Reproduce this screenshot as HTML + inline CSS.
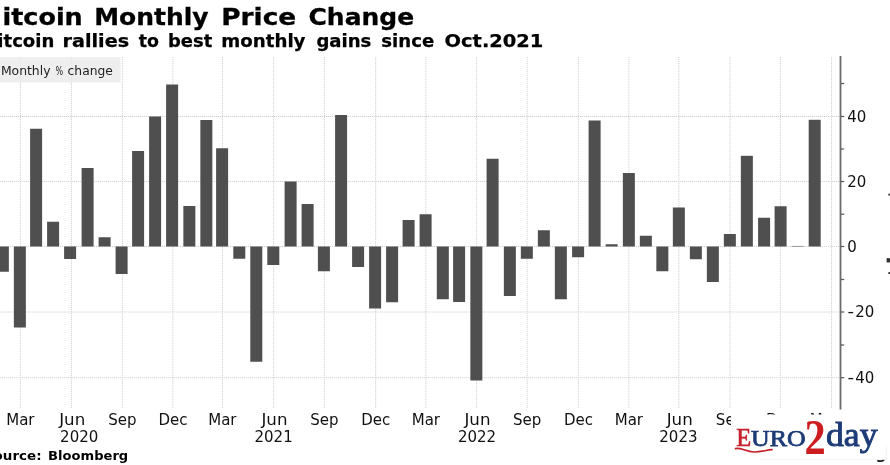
<!DOCTYPE html>
<html><head><meta charset="utf-8"><title>Bitcoin Monthly Price Change</title>
<style>
html,body{margin:0;padding:0;background:#fff;}
body{width:890px;height:465px;overflow:hidden;position:relative;font-family:"DejaVu Sans","Liberation Sans",sans-serif;}
svg{position:absolute;left:0;top:0;display:block;}
.t1{font-weight:bold;font-size:23.3px;fill:#000;stroke:#000;stroke-width:0.3px;}
.t2{font-weight:bold;font-size:17px;fill:#000;stroke:#000;stroke-width:0.25px;}
.lb{font-size:15px;fill:#111;}
.lg{font-size:12px;fill:#222;}
.src{font-weight:bold;font-size:12.4px;fill:#000;}
.gr{stroke:#d2d2d2;stroke-width:1;stroke-dasharray:1.2 0.8;fill:none;}
.bar{fill:#4f4f4f;}
</style></head><body>
<svg width="890" height="465" viewBox="0 0 890 465">
<rect x="0" y="0" width="890" height="465" fill="#ffffff"/>

<g class="gr">
<line x1="20.40" y1="57" x2="20.40" y2="408"/>
<line x1="71.40" y1="57" x2="71.40" y2="408"/>
<line x1="122.40" y1="57" x2="122.40" y2="408"/>
<line x1="172.90" y1="57" x2="172.90" y2="408"/>
<line x1="222.40" y1="57" x2="222.40" y2="408"/>
<line x1="273.65" y1="57" x2="273.65" y2="408"/>
<line x1="324.40" y1="57" x2="324.40" y2="408"/>
<line x1="375.65" y1="57" x2="375.65" y2="408"/>
<line x1="425.90" y1="57" x2="425.90" y2="408"/>
<line x1="476.65" y1="57" x2="476.65" y2="408"/>
<line x1="527.15" y1="57" x2="527.15" y2="408"/>
<line x1="578.40" y1="57" x2="578.40" y2="408"/>
<line x1="628.90" y1="57" x2="628.90" y2="408"/>
<line x1="678.90" y1="57" x2="678.90" y2="408"/>
<line x1="730.00" y1="57" x2="730.00" y2="408"/>
<line x1="780.40" y1="57" x2="780.40" y2="408"/>
<line x1="831.60" y1="57" x2="831.60" y2="408"/>
<line x1="0" y1="116.5" x2="839" y2="116.5"/>
<line x1="0" y1="181.5" x2="839" y2="181.5"/>
<line x1="0" y1="246.5" x2="839" y2="246.5"/>
<line x1="0" y1="312" x2="839" y2="312"/>
<line x1="0" y1="377.7" x2="839" y2="377.7"/>
</g>
<rect x="0" y="57.2" width="120.6" height="25.3" fill="#eaeaea" fill-opacity="0.8"/>
<text class="lg" y="74.8"><tspan x="0.9" textLength="49.6" lengthAdjust="spacingAndGlyphs">Monthly</tspan> <tspan x="55.4" textLength="7.6" lengthAdjust="spacingAndGlyphs">%</tspan> <tspan x="67.6" textLength="45.3" lengthAdjust="spacingAndGlyphs">change</tspan></text>
<g class="bar">
<rect x="-3.15" y="246.5" width="12.0" height="25.25"/>
<rect x="13.85" y="246.5" width="12.0" height="81.00"/>
<rect x="30.1" y="128.75" width="12.0" height="117.75"/>
<rect x="47.1" y="221.75" width="12.0" height="24.75"/>
<rect x="64.1" y="246.5" width="12.0" height="12.50"/>
<rect x="81.6" y="168" width="12.0" height="78.50"/>
<rect x="98.6" y="237.25" width="12.0" height="9.25"/>
<rect x="115.6" y="246.5" width="12.0" height="27.50"/>
<rect x="132.1" y="151" width="12.0" height="95.50"/>
<rect x="149.1" y="116.5" width="12.0" height="130.00"/>
<rect x="166.1" y="84.5" width="12.0" height="162.00"/>
<rect x="183.35" y="206" width="12.0" height="40.50"/>
<rect x="200.35" y="120" width="12.0" height="126.50"/>
<rect x="216.1" y="148.25" width="12.0" height="98.25"/>
<rect x="233.3" y="246.5" width="12.0" height="12.25"/>
<rect x="250.3" y="246.5" width="12.0" height="115.25"/>
<rect x="267.3" y="246.5" width="12.0" height="18.50"/>
<rect x="284.6" y="181.5" width="12.0" height="65.00"/>
<rect x="301.6" y="204" width="12.0" height="42.50"/>
<rect x="317.9" y="246.5" width="12.0" height="24.75"/>
<rect x="335.1" y="115" width="12.0" height="131.50"/>
<rect x="352.1" y="246.5" width="12.0" height="20.50"/>
<rect x="369.1" y="246.5" width="12.0" height="62.00"/>
<rect x="386.1" y="246.5" width="12.0" height="55.75"/>
<rect x="402.6" y="220" width="12.0" height="26.50"/>
<rect x="419.6" y="214.25" width="12.0" height="32.25"/>
<rect x="436.8" y="246.5" width="12.0" height="52.75"/>
<rect x="453.1" y="246.5" width="12.0" height="55.50"/>
<rect x="470.35" y="246.5" width="12.0" height="134.00"/>
<rect x="486.6" y="158.75" width="12.0" height="87.75"/>
<rect x="503.85" y="246.5" width="12.0" height="49.50"/>
<rect x="520.85" y="246.5" width="12.0" height="12.25"/>
<rect x="537.85" y="230.25" width="12.0" height="16.25"/>
<rect x="554.85" y="246.5" width="12.0" height="52.75"/>
<rect x="572.1" y="246.5" width="12.0" height="10.75"/>
<rect x="588.6" y="120.5" width="12.0" height="126.00"/>
<rect x="605.6" y="244.25" width="12.0" height="2.25"/>
<rect x="622.85" y="173" width="12.0" height="73.50"/>
<rect x="639.85" y="235.75" width="12.0" height="10.75"/>
<rect x="656.35" y="246.5" width="12.0" height="24.75"/>
<rect x="672.85" y="207.5" width="12.0" height="39.00"/>
<rect x="689.85" y="246.5" width="12.0" height="12.75"/>
<rect x="706.85" y="246.5" width="12.0" height="35.50"/>
<rect x="723.85" y="234" width="12.0" height="12.50"/>
<rect x="740.85" y="155.8" width="12.0" height="90.70"/>
<rect x="758.1" y="217.75" width="12.0" height="28.75"/>
<rect x="774.6" y="206.25" width="12.0" height="40.25"/>
<rect x="791.6" y="245.9" width="12.0" height="1" fill="#9a9a9a"/>
<rect x="808.7" y="119.8" width="12.0" height="126.70"/>
</g>
<rect x="839.6" y="56" width="1.8" height="353.5" fill="#6a6a6a"/>
<rect x="841" y="82.9" width="3.2" height="1.2" fill="#555"/>
<rect x="841" y="115.9" width="3.2" height="1.2" fill="#555"/>
<rect x="841" y="148.4" width="3.2" height="1.2" fill="#555"/>
<rect x="841" y="180.9" width="3.2" height="1.2" fill="#555"/>
<rect x="841" y="213.6" width="3.2" height="1.2" fill="#555"/>
<rect x="841" y="245.9" width="3.2" height="1.2" fill="#555"/>
<rect x="841" y="278.9" width="3.2" height="1.2" fill="#555"/>
<rect x="841" y="311.4" width="3.2" height="1.2" fill="#555"/>
<rect x="841" y="344.4" width="3.2" height="1.2" fill="#555"/>
<rect x="841" y="377.09999999999997" width="3.2" height="1.2" fill="#555"/>
<text class="lb" x="847.2" y="121.95">40</text>
<text class="lb" x="847.2" y="186.95">20</text>
<text class="lb" x="847.2" y="251.95">0</text>
<text class="lb" y="317.45"><tspan x="847.6" textLength="6.6" lengthAdjust="spacingAndGlyphs">-</tspan><tspan x="855.3">20</tspan></text>
<text class="lb" y="383.15"><tspan x="847.6" textLength="6.6" lengthAdjust="spacingAndGlyphs">-</tspan><tspan x="855.3">40</tspan></text>
<text class="lb" x="20.40" y="424.7" text-anchor="middle">Mar</text>
<text class="lb" x="59.20" y="424.7" textLength="26" lengthAdjust="spacingAndGlyphs">Jun</text>
<text class="lb" x="122.40" y="424.7" text-anchor="middle">Sep</text>
<text class="lb" x="172.90" y="424.7" text-anchor="middle">Dec</text>
<text class="lb" x="222.40" y="424.7" text-anchor="middle">Mar</text>
<text class="lb" x="261.45" y="424.7" textLength="26" lengthAdjust="spacingAndGlyphs">Jun</text>
<text class="lb" x="324.40" y="424.7" text-anchor="middle">Sep</text>
<text class="lb" x="375.65" y="424.7" text-anchor="middle">Dec</text>
<text class="lb" x="425.90" y="424.7" text-anchor="middle">Mar</text>
<text class="lb" x="464.45" y="424.7" textLength="26" lengthAdjust="spacingAndGlyphs">Jun</text>
<text class="lb" x="527.15" y="424.7" text-anchor="middle">Sep</text>
<text class="lb" x="578.40" y="424.7" text-anchor="middle">Dec</text>
<text class="lb" x="628.90" y="424.7" text-anchor="middle">Mar</text>
<text class="lb" x="666.70" y="424.7" textLength="26" lengthAdjust="spacingAndGlyphs">Jun</text>
<text class="lb" x="730.00" y="424.7" text-anchor="middle">Sep</text>
<text class="lb" x="780.40" y="424.7" text-anchor="middle">Dec</text>
<text class="lb" x="823.80" y="424.7" text-anchor="middle">Mar</text>
<text class="lb" x="79.2" y="442.1" text-anchor="middle">2020</text>
<text class="lb" x="273.6" y="442.1" text-anchor="middle">2021</text>
<text class="lb" x="477" y="442.1" text-anchor="middle">2022</text>
<text class="lb" x="678.4" y="442.1" text-anchor="middle">2023</text>
<text class="t1" y="25"><tspan x="-27.59">B</tspan><tspan x="2.41" textLength="80.33" lengthAdjust="spacingAndGlyphs">itcoin</tspan> <tspan x="94.16" textLength="114.34" lengthAdjust="spacingAndGlyphs">Monthly</tspan> <tspan x="221.23" textLength="74.97" lengthAdjust="spacingAndGlyphs">Price</tspan> <tspan x="308.53" textLength="105.63" lengthAdjust="spacingAndGlyphs">Change</tspan></text>
<text class="t2" y="46.9"><tspan x="-32.66">B</tspan><tspan x="-2.66" textLength="56.93" lengthAdjust="spacingAndGlyphs">itcoin</tspan> <tspan x="62.57" textLength="66.56" lengthAdjust="spacingAndGlyphs">rallies</tspan> <tspan x="138.8" textLength="20.19" lengthAdjust="spacingAndGlyphs">to</tspan> <tspan x="168.05" textLength="44.19" lengthAdjust="spacingAndGlyphs">best</tspan> <tspan x="221.33" textLength="84.16" lengthAdjust="spacingAndGlyphs">monthly</tspan> <tspan x="316.4" textLength="54.93" lengthAdjust="spacingAndGlyphs">gains</tspan> <tspan x="381.3" textLength="52.86" lengthAdjust="spacingAndGlyphs">since</tspan> <tspan x="444.6" textLength="98.75" lengthAdjust="spacingAndGlyphs">Oct.2021</tspan></text>
<text class="src" y="459.9"><tspan x="-36.4">S</tspan><tspan x="-6.4" textLength="47.94" lengthAdjust="spacingAndGlyphs">ource:</tspan> <tspan x="48.14" textLength="80.07" lengthAdjust="spacingAndGlyphs">Bloomberg</tspan></text>
<g fill="#333"><rect x="888.4" y="193.6" width="1.6" height="2"/><rect x="886.6" y="258" width="3.4" height="4.6" rx="1.2"/><rect x="888.4" y="272" width="1.6" height="2"/></g>
<text x="886.5" y="459.2" text-anchor="end" style="font-weight:bold;font-size:15.5px;fill:#111">Bloomberg</text>
<g>
<rect x="731" y="414.6" width="155.5" height="44.8" rx="2" fill="#ffffff"/>
<path d="M886.2 446 V459.6 H760" stroke="#efefef" stroke-width="0.8" fill="none"/>
<g font-family="'Liberation Serif','DejaVu Serif',serif">
<text x="736.2" y="446.3" font-size="25.8" fill="#c6212b" stroke="#c6212b" stroke-width="0.6" textLength="15" lengthAdjust="spacingAndGlyphs">E</text>
<text x="751" y="446.3" font-size="23.2" fill="#1d3b76" stroke="#1d3b76" stroke-width="0.75" textLength="54.6" lengthAdjust="spacingAndGlyphs">URO</text>
<text x="804.6" y="454.4" font-size="50.7" font-weight="bold" fill="#cc1c20" textLength="21.2" lengthAdjust="spacingAndGlyphs">2</text>
<text x="826" y="446.3" font-size="33" fill="#1d3b76" stroke="#1d3b76" stroke-width="0.9" textLength="51.5" lengthAdjust="spacingAndGlyphs">day</text>
</g>
<path d="M735.5 448.6 C740 447 746 451.8 754 452 C761 452.2 766 450 772 449.6" stroke="#c6212b" stroke-width="1.7" fill="none" stroke-linecap="round"/>
</g>

</svg></body></html>
